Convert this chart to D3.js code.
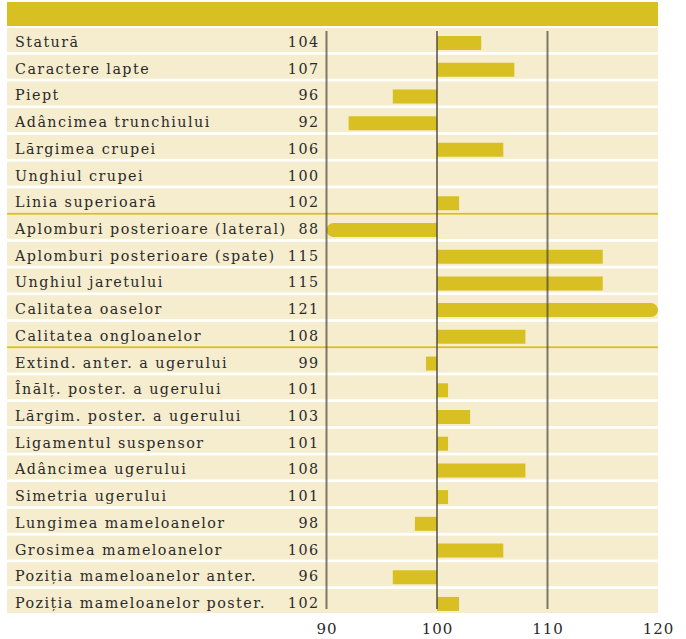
<!DOCTYPE html>
<html>
<head>
<meta charset="utf-8">
<script src="https://cdn.jsdelivr.net/npm/d3@7"></script>
<style>
  body { margin: 0; background: #fff; }
  text { font-family: "DejaVu Serif", serif; fill: #2a2a2a; }
</style>
</head>
<body>
<div id="chart"></div>
<script>
// trait names and index values
const traits = [
  "Statură", "Caractere lapte", "Piept", "Adâncimea trunchiului", "Lărgimea crupei",
  "Unghiul crupei", "Linia superioară",
  "Aplomburi posterioare (lateral)", "Aplomburi posterioare (spate)", "Unghiul jaretului",
  "Calitatea oaselor", "Calitatea ongloanelor",
  "Extind. anter. a ugerului", "Înălț. poster. a ugerului", "Lărgim. poster. a ugerului",
  "Ligamentul suspensor", "Adâncimea ugerului", "Simetria ugerului",
  "Lungimea mameloanelor", "Grosimea mameloanelor", "Poziția mameloanelor anter.",
  "Poziția mameloanelor poster."
];
const values = [104, 107, 96, 92, 106, 100, 102, 88, 115, 115, 121, 108,
  99, 101, 103, 101, 108, 101, 98, 106, 96, 102];
// group dividers come after these traits
const groupEnds = ["Linia superioară", "Calitatea ongloanelor"];
const gridValues = [90, 100, 110];
const tickValues = [90, 100, 110, 120];

const width = 686, height = 639;
const gold = "#d8c022", rowBg = "#f6edcf";

const svg = d3.select("#chart").append("svg")
  .attr("width", width).attr("height", height);

const x = d3.scaleLinear().domain([90, 120]).range([326.5, 658]).clamp(true);
const y = d3.scaleBand().domain(traits).range([28, 613]).paddingInner(0.1);

// header band
svg.append("rect").attr("x", 7).attr("y", 2).attr("width", 651).attr("height", 24).attr("fill", gold);

// row backgrounds
svg.selectAll("rect.row").data(traits).join("rect")
  .attr("class", "row")
  .attr("x", 7).attr("width", 651)
  .attr("y", d => y(d)).attr("height", y.bandwidth())
  .attr("fill", rowBg);

// group dividers
svg.selectAll("line.sep").data(groupEnds).join("line")
  .attr("class", "sep")
  .attr("x1", 7).attr("x2", 658)
  .attr("y1", d => y(d) + y.bandwidth() + y.step() * 0.05)
  .attr("y2", d => y(d) + y.bandwidth() + y.step() * 0.05)
  .attr("stroke", gold).attr("stroke-width", 2);

// bars (rounded end when the value runs off the scale)
const barH = 14, r = 7;
svg.selectAll("path.bar").data(traits).join("path")
  .attr("class", "bar")
  .attr("fill", gold)
  .attr("d", (d, i) => {
    const v = values[i];
    const x0 = x(100), x1 = x(v);
    const top = y(d) + 8, bot = top + barH;
    const clipped = v < 90 || v > 120;
    if (!clipped) {
      const a = Math.min(x0, x1), b = Math.max(x0, x1);
      return `M${a},${top}H${b}V${bot}H${a}Z`;
    }
    if (x1 > x0) {
      return `M${x0},${top}H${x1 - r}A${r},${r} 0 0 1 ${x1 - r},${bot}H${x0}Z`;
    }
    return `M${x0},${top}H${x1 + r}A${r},${r} 0 0 0 ${x1 + r},${bot}H${x0}Z`;
  });

// grid lines on top of bars
svg.selectAll("line.grid").data(gridValues).join("line")
  .attr("class", "grid")
  .attr("x1", d => x(d)).attr("x2", d => x(d))
  .attr("y1", y(traits[0]) + 3)
  .attr("y2", y(traits[traits.length - 1]) + y.bandwidth() - 4)
  .attr("stroke", "#4a4538").attr("stroke-opacity", 0.7).attr("stroke-width", 2);

// labels and values
svg.selectAll("text.label").data(traits).join("text")
  .attr("class", "label")
  .attr("x", 15).attr("y", d => y(d) + 19)
  .style("font-size", "14.3px")
  .style("letter-spacing", "1.45px")
  .text(d => d);

svg.selectAll("text.val").data(traits).join("text")
  .attr("class", "val")
  .attr("x", 319.5).attr("y", d => y(d) + 19)
  .attr("text-anchor", "end")
  .style("font-size", "14.3px")
  .style("letter-spacing", "1.45px")
  .text((d, i) => values[i]);

// bottom axis labels
const xAxis = d3.axisBottom(x).tickValues(tickValues).tickSize(0).tickPadding(0);
const ax = svg.append("g").attr("transform", "translate(0,613)").call(xAxis);
ax.select(".domain").remove();
ax.selectAll("text")
  .attr("dy", "0")
  .attr("y", 21)
  .style("font-size", "15px")
  .style("letter-spacing", "1px")
  .style("font-family", "DejaVu Serif")
  .attr("fill", "#2a2a2a");
</script>
</body>
</html>
